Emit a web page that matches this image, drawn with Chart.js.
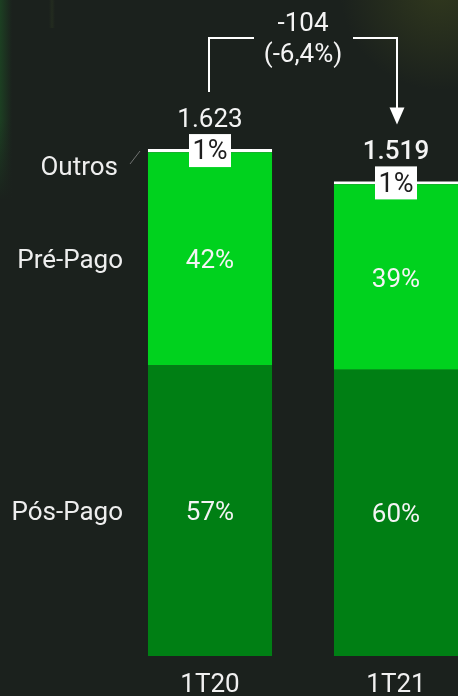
<!DOCTYPE html>
<html><head><meta charset="utf-8">
<script src="https://cdn.jsdelivr.net/npm/chart.js@4"></script>
<style>
html,body{margin:0;padding:0;background:#1b211d;overflow:hidden;width:458px;height:696px}
#wrap{width:490px;height:696px;position:relative}
canvas{display:block}
</style></head><body><div id="wrap"><canvas id="c" width="490" height="696"></canvas></div>
<script>
const categories = ['1T20', '1T21'];
const seriesNames = ['Pós-Pago', 'Pré-Pago', 'Outros'];
const posPago = [930, 916];
const prePago = [683, 594];
const outros = [10, 9];
const totalLabels = ['1.623', '1.519'];
const posPct = ['57%', '60%'];
const prePct = ['42%', '39%'];
const outrosPct = ['1%', '1%'];
const deltaLabels = ['-104', '(-6,4%)'];

const FONT = 'Roboto, "Noto Sans", sans-serif';

const bgPlugin = {
  id: 'bg',
  beforeDraw(chart) {
    const ctx = chart.ctx, w = chart.width, h = chart.height;
    ctx.save();
    ctx.fillStyle = '#1b211d';
    ctx.fillRect(0, 0, w, h);
    // left green glow, fading downward
    let g = ctx.createLinearGradient(0, 0, 12, 0);
    g.addColorStop(0, 'rgba(30,100,40,0.45)');
    g.addColorStop(1, 'rgba(30,100,40,0)');
    ctx.fillStyle = g;
    ctx.fillRect(0, 0, 12, 200);
    g = ctx.createLinearGradient(0, 120, 0, 200);
    g.addColorStop(0, 'rgba(27,33,29,0)');
    g.addColorStop(1, 'rgba(27,33,29,1)');
    ctx.fillStyle = g;
    ctx.fillRect(0, 120, 12, 80);
    // top-right warm glow
    g = ctx.createRadialGradient(440, -10, 0, 440, -10, 100);
    g.addColorStop(0, 'rgba(80,90,30,0.4)');
    g.addColorStop(1, 'rgba(80,90,30,0)');
    ctx.fillStyle = g;
    ctx.fillRect(300, 0, 190, 120);
    // faint streak
    g = ctx.createLinearGradient(49, 0, 55, 0);
    g.addColorStop(0, 'rgba(70,90,40,0)');
    g.addColorStop(0.5, 'rgba(70,90,40,0.18)');
    g.addColorStop(1, 'rgba(70,90,40,0)');
    ctx.fillStyle = g;
    ctx.fillRect(49, 0, 6, 28);
    ctx.restore();
  }
};

const labelPlugin = {
  id: 'labels',
  afterDatasetsDraw(chart) {
    const ctx = chart.ctx;
    const mPos = chart.getDatasetMeta(0), mPre = chart.getDatasetMeta(1), mOut = chart.getDatasetMeta(2);
    ctx.save();
    ctx.textAlign = 'center';
    ctx.textBaseline = 'middle';
    for (let i = 0; i < categories.length; i++) {
      const p = mPos.data[i], r = mPre.data[i], o = mOut.data[i];
      ctx.font = '26px ' + FONT;
      ctx.fillStyle = '#f4f4f4';
      ctx.fillText(posPct[i], p.x, (p.y + p.base) / 2 + 3);
      ctx.fillText(prePct[i], r.x, (r.y + r.base) / 2 + 3);
      // outros box
      const cy = (o.y + o.base) / 2;
      ctx.fillStyle = '#ffffff';
      ctx.fillRect(o.x - 21, cy - 16.5, 42, 33);
      ctx.fillStyle = '#1e1e1e';
      ctx.font = '27px ' + FONT;
      ctx.fillText(outrosPct[i], o.x, cy + 2);
      // totals
      ctx.textBaseline = 'alphabetic';
      ctx.fillStyle = '#f4f4f4';
      ctx.font = (i === 1 ? '500 ' : '400 ') + '26px ' + FONT;
      ctx.fillText(totalLabels[i], o.x, o.y - 22);
      ctx.textBaseline = 'middle';
    }
    // left series labels
    const a = chart.chartArea;
    const p0 = mPos.data[0], r0 = mPre.data[0], o0 = mOut.data[0];
    ctx.textAlign = 'right';
    ctx.font = '26px ' + FONT;
    ctx.fillStyle = '#eeeeee';
    ctx.fillText(seriesNames[2], a.left + 1, o0.y + 19);
    ctx.fillText(seriesNames[1], a.left + 6, (r0.y + r0.base) / 2 + 3);
    ctx.fillText(seriesNames[0], a.left + 6, (p0.y + p0.base) / 2 + 3);
    ctx.strokeStyle = 'rgba(150,150,150,0.7)';
    ctx.lineWidth = 1;
    ctx.beginPath();
    ctx.moveTo(a.left + 13, o0.y + 15);
    ctx.lineTo(a.left + 23, o0.y + 2);
    ctx.stroke();
    // bracket with arrow
    const o1 = mOut.data[1];
    const x1 = o0.x - 1, x2 = o1.x + 1, xm = (o0.x + o1.x) / 2, yb = 38;
    ctx.strokeStyle = '#ffffff';
    ctx.lineWidth = 2;
    ctx.beginPath();
    ctx.moveTo(x1, o0.y - 57);
    ctx.lineTo(x1, yb);
    ctx.lineTo(xm - 49, yb);
    ctx.moveTo(xm + 50, yb);
    ctx.lineTo(x2, yb);
    ctx.lineTo(x2, o1.y - 70);
    ctx.stroke();
    ctx.fillStyle = '#ffffff';
    ctx.beginPath();
    ctx.moveTo(x2 - 7.5, o1.y - 74);
    ctx.lineTo(x2 + 7.5, o1.y - 74);
    ctx.lineTo(x2, o1.y - 57);
    ctx.closePath();
    ctx.fill();
    ctx.textAlign = 'center';
    ctx.textBaseline = 'alphabetic';
    ctx.fillStyle = '#f4f4f4';
    ctx.font = '26px ' + FONT;
    ctx.fillText(deltaLabels[0], xm, 31);
    ctx.fillText(deltaLabels[1], xm, 62);
    ctx.restore();
  }
};

new Chart(document.getElementById('c'), {
  type: 'bar',
  data: {
    labels: categories,
    datasets: [
      { label: seriesNames[0], data: posPago, backgroundColor: '#007f14', barPercentage: 0.667, categoryPercentage: 1, borderWidth: 0 },
      { label: seriesNames[1], data: prePago, backgroundColor: '#00d21e', barPercentage: 0.667, categoryPercentage: 1, borderWidth: 0 },
      { label: seriesNames[2], data: outros, backgroundColor: '#ffffff', barPercentage: 0.667, categoryPercentage: 1, borderWidth: 0 }
    ]
  },
  options: {
    responsive: false,
    animation: false,
    devicePixelRatio: 1,
    layout: { padding: { left: 117, right: 1, top: 0, bottom: 0 } },
    plugins: { legend: { display: false }, tooltip: { enabled: false } },
    scales: {
      x: {
        stacked: true,
        grid: { display: false, drawTicks: false },
        border: { display: false },
        ticks: { color: '#f0f0f0', font: { family: FONT, size: 26 }, padding: 14 },
        afterFit(s) { s.height = 40; }
      },
      y: { stacked: true, display: false, min: 0, max: 2100 }
    }
  },
  plugins: [bgPlugin, labelPlugin]
});
</script>
</body></html>
